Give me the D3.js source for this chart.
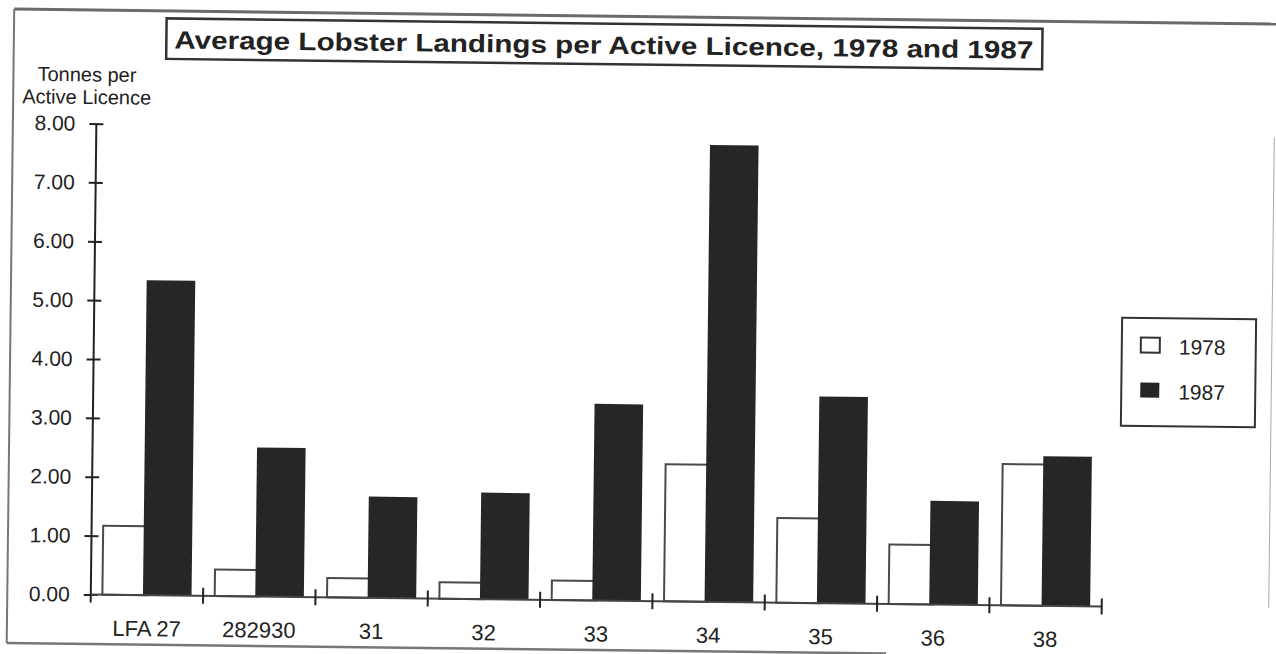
<!DOCTYPE html>
<html>
<head>
<meta charset="utf-8">
<script src="https://cdn.jsdelivr.net/npm/d3@7"></script>
<style>
  html, body { margin: 0; padding: 0; background: #fff; }
  svg { display: block; }
  text { font-family: "Liberation Sans", Arial, Helvetica, sans-serif; fill: #222; }
</style>
</head>
<body>
<svg id="chart" width="1276" height="654"></svg>
<script>
// Lobster Fishing Areas and the average landings (tonnes) per active licence
const categories = ["LFA 27", "282930", "31", "32", "33", "34", "35", "36", "38"];
const seriesNames = ["1978", "1987"];
const values1978 = [1.17, 0.45, 0.33, 0.28, 0.33, 2.33, 1.44, 1.01, 2.40];
const values1987 = [5.35, 2.53, 1.72, 1.81, 3.34, 7.76, 3.51, 1.76, 2.54];
const yTicks = [0, 1, 2, 3, 4, 5, 6, 7, 8];
const titleText = "Average Lobster Landings per Active Licence, 1978 and 1987";
const yTitleLines = ["Tonnes per", "Active Licence"];

const plot = { left: 94, right: 1105, top: 130, bottom: 601 };
const dark = "#262626";
const ink = "#222";

const svg = d3.select("#chart");
// the printed page sits slightly askew
const root = svg.append("g").attr("transform", "rotate(0.68,638,327)");

const x = d3.scaleBand().domain(categories).range([plot.left, plot.right]).padding(0);
const xs = d3.scaleBand().domain(seriesNames).range([0, x.bandwidth()]).paddingInner(0).paddingOuter(0.26);
const y = d3.scaleLinear().domain([0, 8]).range([plot.bottom, plot.top]);

// page frame
const frame = root.append("g").attr("fill", "none");
frame.append("line").attr("x1", 10.5).attr("x2", 1300).attr("y1", 16.5).attr("y2", 16.5)
  .attr("stroke", "#6a6a6a").attr("stroke-width", 3);
frame.append("line").attr("x1", 10.5).attr("x2", 10.5).attr("y1", 16.5).attr("y2", 650.5)
  .attr("stroke", "#777").attr("stroke-width", 2);
frame.append("line").attr("x1", 10.5).attr("x2", 890).attr("y1", 650.5).attr("y2", 650.5)
  .attr("stroke", "#777").attr("stroke-width", 2.5);
frame.append("line").attr("x1", 1272).attr("x2", 1272).attr("y1", 130).attr("y2", 600)
  .attr("stroke", "#aaa").attr("stroke-width", 1);

// title box
const tg = root.append("g");
tg.append("rect").attr("x", 163).attr("y", 24).attr("width", 876).attr("height", 40.5)
  .attr("fill", "#fff").attr("stroke", "#333").attr("stroke-width", 2.5);
tg.append("text").attr("x", 171).attr("y", 54)
  .attr("font-size", 25).attr("font-weight", "bold")
  .attr("textLength", 859).attr("lengthAdjust", "spacingAndGlyphs")
  .text(titleText);

// y axis title
root.append("g").selectAll("text").data(yTitleLines).join("text")
  .attr("x", 84).attr("y", (d, i) => 88 + i * 22.5)
  .attr("text-anchor", "middle").attr("font-size", 20)
  .text(d => d);

// bars
const rows = categories.map((c, i) => ({ cat: c, v: [values1978[i], values1987[i]] }));
const groups = root.append("g").selectAll("g").data(rows).join("g")
  .attr("transform", d => `translate(${x(d.cat)},0)`);

groups.append("rect")
  .attr("x", xs("1978")).attr("width", xs.bandwidth())
  .attr("y", d => y(d.v[0])).attr("height", d => y(0) - y(d.v[0]))
  .attr("fill", "#fff").attr("stroke", "#4a4a4a").attr("stroke-width", 2);

groups.append("rect")
  .attr("x", xs("1987") - 4).attr("width", xs.bandwidth() + 4)
  .attr("y", d => y(d.v[1])).attr("height", d => y(0) - y(d.v[1]))
  .attr("fill", dark);

// y axis
const yAxis = d3.axisLeft(y).tickValues(yTicks).tickFormat(d3.format(".2f"))
  .tickSize(7).tickSizeOuter(0).tickPadding(14);
const ya = root.append("g").attr("transform", `translate(${plot.left},0)`).call(yAxis);
ya.select(".domain").remove();
ya.selectAll(".tick line").attr("x1", 7).attr("stroke", ink).attr("stroke-width", 2);
ya.selectAll(".tick text").attr("font-size", 21).attr("fill", ink)
  .attr("font-family", "Liberation Sans, Arial, sans-serif");
root.append("line").attr("x1", plot.left).attr("x2", plot.left)
  .attr("y1", y(8)).attr("y2", y(0) + 8).attr("stroke", ink).attr("stroke-width", 2);

// x axis
const xa = root.append("g");
xa.append("line").attr("x1", plot.left).attr("x2", plot.right)
  .attr("y1", y(0)).attr("y2", y(0)).attr("stroke", "#444").attr("stroke-width", 2);
const bounds = categories.slice(1).map(c => x(c)).concat([plot.right]);
xa.selectAll("line.tick").data(bounds).join("line").attr("class", "tick")
  .attr("x1", d => d).attr("x2", d => d)
  .attr("y1", y(0) - 8).attr("y2", y(0) + 8)
  .attr("stroke", ink).attr("stroke-width", 2);
xa.selectAll("text").data(categories).join("text")
  .attr("x", d => x(d) + x.bandwidth() / 2).attr("y", 642)
  .attr("text-anchor", "middle").attr("font-size", 22)
  .text(d => d);

// legend
const lg = root.append("g");
lg.append("rect").attr("x", 1122).attr("y", 312).attr("width", 134).attr("height", 108)
  .attr("fill", "#fff").attr("stroke", "#333").attr("stroke-width", 2);
const items = lg.selectAll("g").data(seriesNames).join("g")
  .attr("transform", (d, i) => `translate(1141,${331.5 + i * 45})`);
items.append("rect").attr("width", 19).attr("height", 15)
  .attr("fill", (d, i) => i === 0 ? "#fff" : dark)
  .attr("stroke", (d, i) => i === 0 ? "#333" : "none").attr("stroke-width", 2);
items.append("text").attr("x", 38).attr("y", 16.5).attr("font-size", 21).text(d => d);
</script>
</body>
</html>
